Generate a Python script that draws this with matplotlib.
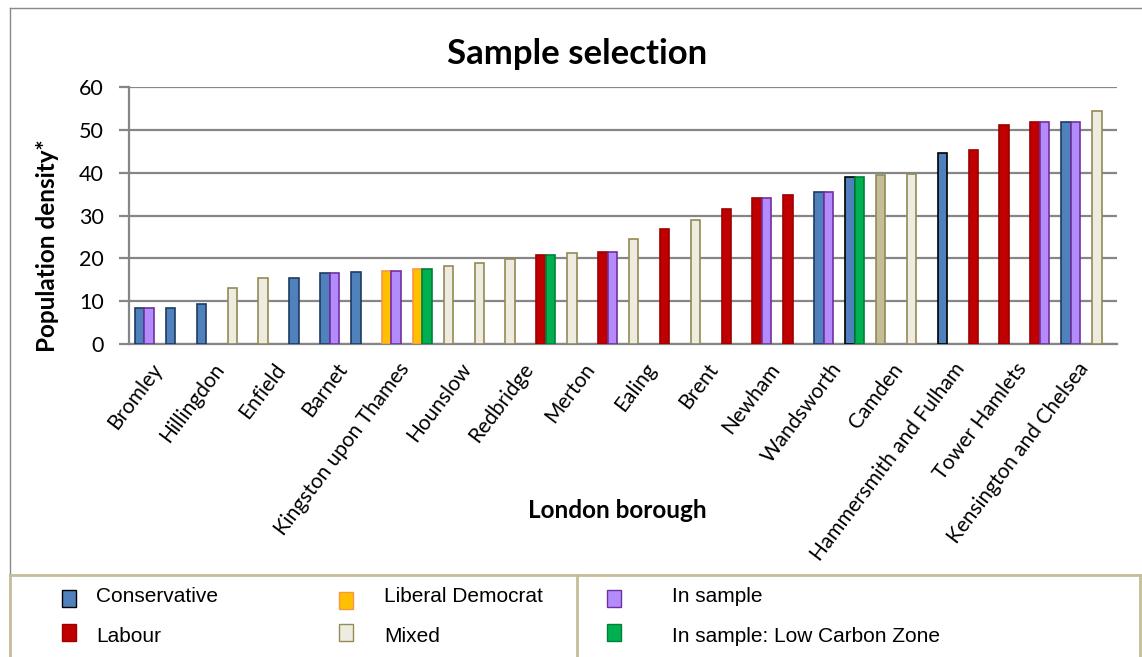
import matplotlib.pyplot as plt
import matplotlib.transforms as mtransforms
import numpy as np
from matplotlib.patches import Rectangle
from matplotlib.lines import Line2D

# boroughs ordered by density (only every other one is labelled on the chart)
boroughs = ['Bromley', '', 'Hillingdon', '', 'Enfield', '', 'Barnet', '',
            'Kingston upon Thames', '', 'Hounslow', '', 'Redbridge', '', 'Merton', '',
            'Ealing', '', 'Brent', '', 'Newham', '', 'Wandsworth', '',
            'Camden', '', 'Hammersmith and Fulham', '', 'Tower Hamlets', '',
            'Kensington and Chelsea', '']
density = [8.3, 8.5, 9.3, 13.0, 15.3, 15.5, 16.5, 16.9,
           17.0, 17.4, 18.2, 19.0, 19.8, 20.8, 21.3, 21.4,
           24.4, 26.8, 28.9, 31.5, 34.2, 34.7, 35.6, 39.1,
           39.4, 39.6, 44.6, 45.2, 51.2, 51.8, 51.9, 54.5]
party = ['Con', 'Con', 'Con', 'Mix', 'Mix', 'Con', 'Con', 'Con',
         'LD', 'LD', 'Mix', 'Mix', 'Mix', 'Lab', 'Mix', 'Lab',
         'Mix', 'Lab', 'Mix', 'Lab', 'Lab', 'Lab', 'Con', 'Con',
         'Mix2', 'Mix', 'Con', 'Lab', 'Lab', 'Lab', 'Con', 'Mix']
# '' = not in sample, 'S' = in sample, 'LCZ' = in sample: Low Carbon Zone
sample = ['S', '', '', '', '', '', 'S', '',
          'S', 'LCZ', '', '', '', 'LCZ', '', 'S',
          '', '', '', '', 'S', '', 'S', 'LCZ',
          '', '', '', '', '', 'S', 'S', '']

fills = {'Con': '#4F81BD', 'Lab': '#C00000', 'LD': '#FFC000', 'Mix': '#EEECE1',
         'Mix2': '#C4BD97', 'S': '#B38BFB', 'LCZ': '#00B050'}
edges = {'Con': '#1F3B60', 'Lab': '#9E0000', 'LD': '#F79646', 'Mix': '#948A54',
         'Mix2': '#948A54', 'S': '#7030A0', 'LCZ': '#00803A'}
black_edge = [23, 26]

W, H = 1142, 657
fig = plt.figure(figsize=(W / 100, H / 100), dpi=100)
ax = fig.add_axes([129 / W, 1 - 344 / H, (1117 - 129) / W, (344 - 87) / H])

x = np.arange(len(density))
w = 0.307
ec1 = [('black' if i in black_edge else edges[p]) for i, p in enumerate(party)]
ax.bar(x - w / 2, density, w, color=[fills[p] for p in party], edgecolor=ec1,
       linewidth=1.2, zorder=3)
sx = [i for i, s in enumerate(sample) if s]
ax.bar(x[sx] + w / 2, [density[i] for i in sx], w,
       color=[fills[sample[i]] for i in sx], edgecolor=[edges[sample[i]] for i in sx],
       linewidth=1.2, zorder=3)

ax.set_xlim(-0.5, len(density) - 0.5)
ax.set_ylim(0, 60)
ax.set_yticks(range(0, 61, 10))
ax.yaxis.grid(True, color='#868686', linewidth=1.6, zorder=0)
for s in ['top', 'right']:
    ax.spines[s].set_visible(False)
for s in ['left', 'bottom']:
    ax.spines[s].set_color('#868686')
    ax.spines[s].set_linewidth(1.6)
ax.tick_params(axis='y', length=7, width=1.6, color='#868686', labelsize=15.5, pad=11)
ax.tick_params(axis='x', length=0, pad=11)
for t in ax.get_yticklabels():
    t.set_fontfamily('Lato')

lab_idx = [i for i, b in enumerate(boroughs) if b]
ax.set_xticks(lab_idx)
ax.set_xticklabels([boroughs[i] for i in lab_idx], rotation=53, ha='right', va='top',
                   rotation_mode='anchor', fontsize=15, family='Lato')
shift = mtransforms.ScaledTranslation(6 / 100, 0, fig.dpi_scale_trans)
for t in ax.get_xticklabels():
    t.set_transform(t.get_transform() + shift)

fig.text(577 / W, 1 - 54 / H, 'Sample selection', ha='center', va='center',
         fontsize=25, fontweight='bold', family='Lato')
fig.text(48 / W, 1 - 246 / H, 'Population density*', ha='center', va='center',
         rotation=90, fontsize=17.5, fontweight='bold', family='Lato')
fig.text(617 / W, 1 - 510 / H, 'London borough', ha='center', va='center',
         fontsize=17.5, fontweight='bold', family='Lato')


def fx(px):
    return px / W


def fy(py):
    return 1 - py / H


# chart border and legend box
fig.add_artist(Line2D([fx(10), fx(10)], [fy(8), fy(575)], color='#898989', lw=1))
fig.add_artist(Line2D([fx(10), 1], [fy(8), fy(8)], color='#898989', lw=1))
tan = '#C4BD97'
fig.add_artist(Line2D([fx(10), fx(1140)], [fy(575), fy(575)], color=tan, lw=2))
fig.add_artist(Line2D([fx(10), fx(10)], [fy(575), 0], color=tan, lw=2))
fig.add_artist(Line2D([fx(1140), fx(1140)], [fy(575), 0], color=tan, lw=2))
fig.add_artist(Line2D([fx(577), fx(577)], [fy(575), 0], color=tan, lw=2))

legend_items = [('Conservative', 'Con', 69, 96, 596, 598),
                ('Labour', 'Lab', 69, 96, 637, 632),
                ('Liberal Democrat', 'LD', 346, 384, 596, 600),
                ('Mixed', 'Mix', 346, 384, 637, 632),
                ('In sample', 'S', 614, 672, 596, 598),
                ('In sample: Low Carbon Zone', 'LCZ', 614, 672, 637, 632)]
for label, key, mx, tx, ty, my in legend_items:
    ec = 'black' if key == 'Con' else edges[key]
    fig.add_artist(Rectangle((fx(mx - 7), fy(my + 8.5)), 14 / W, 17 / H, facecolor=fills[key],
                             edgecolor=ec, lw=1, transform=fig.transFigure))
    fig.text(fx(tx), fy(ty), label, ha='left', va='center', fontsize=15,
             family='Liberation Sans')

fig.savefig('out.png', dpi=100)
